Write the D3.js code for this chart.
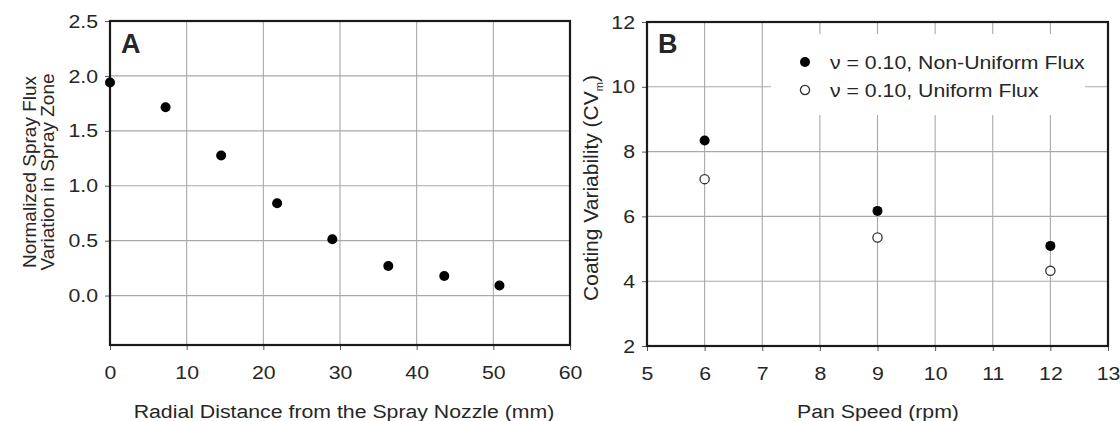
<!DOCTYPE html>
<html>
<head>
<meta charset="utf-8">
<script src="https://cdn.jsdelivr.net/npm/d3@7"></script>
<style>
  body { margin: 0; background: #fff; }
  text { font-family: "Liberation Sans", Arial, sans-serif; fill: #262626; }
</style>
</head>
<body>
<div id="chart"></div>
<script>
// panel A: normalized spray flux vs radial distance
var radialDist = [0, 7.25, 14.5, 21.8, 29, 36.3, 43.6, 50.8]
var sprayFlux = [1.94, 1.715, 1.276, 0.84, 0.513, 0.27, 0.179, 0.091]
var xTicksA = [0, 10, 20, 30, 40, 50, 60]
var yTicksA = [0.0, 0.5, 1.0, 1.5, 2.0, 2.5]

// panel B: coating variability vs pan speed
var panSpeed = [6, 9, 12]
var cvNonUniform = [8.34, 6.17, 5.09]
var cvUniform = [7.15, 5.35, 4.32]
var xTicksB = [5, 6, 7, 8, 9, 10, 11, 12, 13]
var yTicksB = [2, 4, 6, 8, 10, 12]
var legendLabels = ["\u03bd = 0.10, Non-Uniform Flux", "\u03bd = 0.10, Uniform Flux"]

// the source figure is a bit wider than tall, so text gets stretched sideways
var stretch = 1.12

var svg = d3.select("#chart").append("svg")
    .attr("width", 1120)
    .attr("height", 421)

function widen(sel) {
    sel.each(function () {
        var t = d3.select(this)
        var x = +(t.attr("x") || 0)
        t.attr("x", x / stretch).attr("transform", "scale(" + stretch + ",1)")
    })
}

function panel(opts) {
    var g = svg.append("g")
    var x = d3.scaleLinear().domain(opts.xDomain).range([opts.left, opts.right])
    var y = d3.scaleLinear().domain(opts.yDomain).range([opts.bottom, opts.top])

    // grid
    g.selectAll(".vgrid").data(opts.xTicks).enter().append("line")
        .attr("x1", d => x(d)).attr("x2", d => x(d))
        .attr("y1", opts.top).attr("y2", opts.bottom)
        .attr("stroke", "#a8a8a8").attr("stroke-width", 1.1)
    g.selectAll(".hgrid").data(opts.yTicks).enter().append("line")
        .attr("x1", opts.left).attr("x2", opts.right)
        .attr("y1", d => y(d)).attr("y2", d => y(d))
        .attr("stroke", "#a8a8a8").attr("stroke-width", 1.1)

    // axes (outer ticks only)
    g.append("g")
        .attr("transform", "translate(0," + opts.bottom + ")")
        .call(d3.axisBottom(x).tickValues(opts.xTicks).tickSize(5).tickSizeOuter(0).tickPadding(16).tickFormat(opts.xFormat))
    g.append("g")
        .attr("transform", "translate(" + opts.left + ",0)")
        .call(d3.axisLeft(y).tickValues(opts.yTicks).tickSize(5).tickSizeOuter(0).tickPadding(7).tickFormat(opts.yFormat))
    g.selectAll(".domain").remove()
    g.selectAll(".tick line").attr("stroke", "#555")
    g.selectAll(".tick text").style("font-size", "19px").attr("fill", "#2a2a2a")
    widen(g.selectAll(".tick text"))

    return {g: g, x: x, y: y}
}

function frame(p, opts) {
    p.g.append("rect")
        .attr("x", opts.left).attr("y", opts.top)
        .attr("width", opts.right - opts.left).attr("height", opts.bottom - opts.top)
        .attr("fill", "none").attr("stroke", "#1a1a1a").attr("stroke-width", 2.2)
}

// ---------- panel A ----------
var optsA = {
    left: 110, right: 570, top: 21, bottom: 345,
    xDomain: [0, 60], yDomain: [-0.45, 2.5],
    xTicks: xTicksA, yTicks: yTicksA,
    xFormat: d3.format("d"), yFormat: d3.format(".1f")
}
var pA = panel(optsA)
frame(pA, optsA)

pA.g.selectAll(".pt").data(radialDist).enter().append("circle")
    .attr("cx", d => pA.x(d))
    .attr("cy", (d, i) => pA.y(sprayFlux[i]))
    .attr("r", 5)
    .attr("fill", "#000")

pA.g.append("text").attr("x", 121).attr("y", 53)
    .style("font-size", "27px").style("font-weight", "bold").attr("fill", "#111").text("A")

widen(pA.g.append("text").attr("x", 344).attr("y", 418).attr("text-anchor", "middle")
    .style("font-size", "19px").text("Radial Distance from the Spray Nozzle (mm)"))

var yTitleA = pA.g.append("text").attr("transform", "translate(36,172) rotate(-90)")
    .attr("text-anchor", "middle").style("font-size", "19px")
yTitleA.append("tspan").attr("x", 0).attr("dy", 0).text("Normalized Spray Flux")
yTitleA.append("tspan").attr("x", 0).attr("dy", 17.5).text("Variation in Spray Zone")

// ---------- panel B ----------
var optsB = {
    left: 647, right: 1108, top: 22, bottom: 346,
    xDomain: [5, 13], yDomain: [2, 12],
    xTicks: xTicksB, yTicks: yTicksB,
    xFormat: d3.format("d"), yFormat: d3.format("d")
}
var pB = panel(optsB)

// legend box covers the grid
pB.g.append("rect").attr("x", 771).attr("y", 34).attr("width", 314).attr("height", 81).attr("fill", "#fff")

frame(pB, optsB)

pB.g.selectAll(".nu").data(panSpeed).enter().append("circle")
    .attr("cx", d => pB.x(d))
    .attr("cy", (d, i) => pB.y(cvNonUniform[i]))
    .attr("r", 5).attr("fill", "#000")
pB.g.selectAll(".un").data(panSpeed).enter().append("circle")
    .attr("cx", d => pB.x(d))
    .attr("cy", (d, i) => pB.y(cvUniform[i]))
    .attr("r", 4.6).attr("fill", "#fff").attr("stroke", "#333").attr("stroke-width", 1.3)

pB.g.append("text").attr("x", 658).attr("y", 53)
    .style("font-size", "27px").style("font-weight", "bold").attr("fill", "#111").text("B")

var legend = pB.g.selectAll(".leg").data(legendLabels).enter().append("g")
    .attr("transform", (d, i) => "translate(805," + (62 + i * 28) + ")")
legend.append("circle").attr("r", (d, i) => i == 0 ? 5 : 4.6)
    .attr("fill", (d, i) => i == 0 ? "#000" : "#fff")
    .attr("stroke", (d, i) => i == 0 ? "none" : "#333").attr("stroke-width", 1.3)
widen(legend.append("text").attr("x", 25).attr("y", 7).style("font-size", "19px").text(d => d))

widen(pB.g.append("text").attr("x", 878).attr("y", 418).attr("text-anchor", "middle")
    .style("font-size", "19px").text("Pan Speed (rpm)"))

var yTitleB = pB.g.append("text").attr("transform", "translate(598,188) rotate(-90)")
    .attr("text-anchor", "middle").style("font-size", "21px")
yTitleB.append("tspan").text("Coating Variability (CV")
yTitleB.append("tspan").style("font-size", "11px").attr("dy", 5).text("m")
yTitleB.append("tspan").attr("dy", -5).text(")")
</script>
</body>
</html>
